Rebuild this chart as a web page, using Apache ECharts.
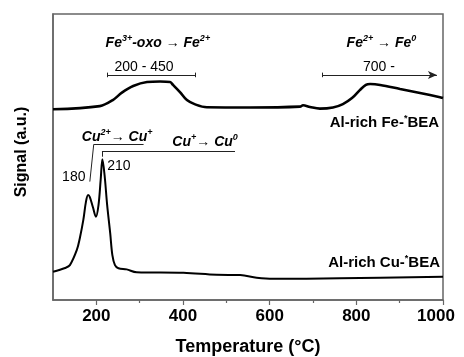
<!DOCTYPE html>
<html><head><meta charset="utf-8">
<script src="https://cdn.jsdelivr.net/npm/echarts@6/dist/echarts.min.js"></script>
<style>html,body{margin:0;padding:0;background:#fff}#c{width:464px;height:357px}</style>
</head><body><div id="c"></div>
<script>
// Temperatures (°C) and signal (arbitrary units, stacked offsets)
const feTemps = [100,208,238,259,285,317,347,370,377,393,409,428,455,555,670,677,693,716,746,769,790,808,822,832,855,901,947,993,1000];
const feSignal = [66.7,67.8,69.9,72.5,74.8,76.2,76.4,76.2,75.2,72.7,69.9,68.4,67.4,67.3,67.6,68.1,67.5,66.9,67.3,68.5,70.6,73.4,75.2,75.5,75.2,73.8,72.4,70.9,70.6];
const cuTemps = [100,128,139,155,162,170,176,181,185,192,199,205,210,214,219,225,232,237,243,251,270,293,401,478,532,570,608,762,1000];
const cuSignal = [9.9,11.2,12.2,17.5,21.7,28.0,34.3,36.7,36.0,32.5,29.1,33.2,42.0,49.2,43.7,33.2,23.4,15.7,12.2,11.1,10.7,9.7,9.5,8.8,8.7,7.8,7.4,7.6,8.1];
const majorTicks = [200,400,600,800,1000];
const minorTicks = [300,500,700,900];

const chart = echarts.init(document.getElementById('c'), null, {renderer:'canvas'});
const F = 'Liberation Sans, Arial, sans-serif';
const lc = '#222';
const seg = (a,b,extra)=>[Object.assign({coord:a, symbol:'none'}, extra&&extra[0]||{}), Object.assign({coord:b, symbol:'none'}, extra&&extra[1]||{})];
const gridBox = {left:53, right:21, top:14, bottom:57, containLabel:false, outerBoundsMode:'none'};

chart.setOption({
  animation:false,
  grid:[Object.assign({show:true, borderColor:'#666', borderWidth:1.5}, gridBox), Object.assign({show:false}, gridBox)],
  xAxis:[{
    type:'value', min:100, max:1000, position:'bottom', gridIndex:0,
    axisLine:{show:true, lineStyle:{color:'#666', width:1.5}},
    axisTick:{show:true, customValues:majorTicks, length:5, lineStyle:{color:'#666', width:1.2}},
    axisLabel:{customValues:majorTicks, margin:8, color:'#000', fontFamily:F, fontWeight:'bold', fontSize:17,
      formatter:v=> v===1000 ? '{l|1000}' : String(v),
      rich:{l:{fontFamily:F, fontWeight:'bold', fontSize:17, color:'#000', padding:[0,14,0,0]}}},
    splitLine:{show:false},
    name:'Temperature (°C)', nameLocation:'middle', nameGap:38,
    nameTextStyle:{color:'#000', fontFamily:F, fontWeight:'bold', fontSize:18}
  },{
    type:'value', min:100, max:1000, position:'bottom', gridIndex:1,
    axisLine:{show:false},
    axisTick:{show:true, customValues:minorTicks, length:3, lineStyle:{color:'#666', width:1.2}},
    axisLabel:{show:true, customValues:minorTicks, formatter:()=>''}, splitLine:{show:false}
  }],
  yAxis:[{
    type:'value', min:0, max:100, gridIndex:0,
    axisLine:{show:true, lineStyle:{color:'#666', width:1.5}},
    axisTick:{show:false}, axisLabel:{show:false}, splitLine:{show:false},
    name:'Signal (a.u.)', nameLocation:'middle', nameGap:23,
    nameTextStyle:{color:'#000', fontFamily:F, fontWeight:'bold', fontSize:16, padding:[0,0,0,10]}
  },{
    type:'value', min:0, max:100, gridIndex:1, show:false
  }],
  series:[
    {type:'line', name:'Fe', data:feTemps.map((t,i)=>[t,feSignal[i]]), showSymbol:false, smooth:0.35,
     lineStyle:{color:'#000', width:2.6}, silent:true,
     markLine:{silent:true, symbolSize:7, label:{show:false}, lineStyle:{color:lc, width:1, type:'solid'},
       data:[
         seg([225,78.7],[428,78.7]),
         seg([225,77.9],[225,79.5]),
         seg([428,77.9],[428,79.5]),
         seg([721,78.7],[986,78.7],[{},{symbol:'arrow', symbolSize:[6,9]}]),
         seg([721,77.9],[721,79.5])
       ]}},
    {type:'line', name:'Cu', data:cuTemps.map((t,i)=>[t,cuSignal[i]]), showSymbol:false, smooth:0.35,
     lineStyle:{color:'#000', width:2}, silent:true,
     markLine:{silent:true, label:{show:false}, lineStyle:{color:lc, width:1, type:'solid'},
       data:[
         seg([185,41.4],[194,54.4]),
         seg([194,54.4],[309,54.4]),
         seg([213,50.1],[213,51.9]),
         seg([213,51.9],[520,51.9])
       ]}}
  ]
});

// annotation texts anchored at data coordinates
const bi = {fontFamily:F, fontWeight:'bold', fontStyle:'italic', fontSize:14, color:'#000', lineHeight:18};
const sup = {fontFamily:F, fontWeight:'bold', fontStyle:'italic', fontSize:9, color:'#000', verticalAlign:'top', lineHeight:10};
const ar = {fontFamily:F, fontWeight:'normal', fontSize:14, color:'#000', lineHeight:18};
const bd = {fontFamily:F, fontWeight:'bold', fontSize:15, color:'#000', lineHeight:18};
const bsup = {fontFamily:F, fontWeight:'bold', fontSize:9, color:'#000', verticalAlign:'top', lineHeight:10};
const rich = {b:bi, s:sup, a:ar, d:bd, p:bsup};
const annotations = [
  {at:[342,89.9], text:'{b|Fe}{s|3+}{b|-oxo }{a|→ }{b|Fe}{s|2+}', align:'center'},
  {at:[858,89.9], text:'{b|Fe}{s|2+}{a| → }{b|Fe}{s|0}', align:'center'},
  {at:[310,81.5], text:'200 - 450', align:'center', plain:true},
  {at:[852,81.5], text:'700 -', align:'center', plain:true},
  {at:[991,61.9], text:'{d|Al-rich Fe-}{p|*}{d|BEA}', align:'right'},
  {at:[993,12.9], text:'{d|Al-rich Cu-}{p|*}{d|BEA}', align:'right'},
  {at:[248,57.1], text:'{b|Cu}{s|2+}{a|→ }{b|Cu}{s|+}', align:'center'},
  {at:[451,55.3], text:'{b|Cu}{s|+}{a|→ }{b|Cu}{s|0}', align:'center'},
  {at:[148,42.8], text:'180', align:'center', plain:true},
  {at:[252,46.9], text:'210', align:'center', plain:true}
];
const g = annotations.map(a=>{
  const p = chart.convertToPixel({xAxisIndex:0, yAxisIndex:0}, a.at);
  const style = a.plain
    ? {text:a.text, x:p[0], y:p[1], align:a.align, verticalAlign:'middle', fontFamily:F, fontSize:14, fill:'#000'}
    : {text:a.text, x:p[0], y:p[1], align:a.align, verticalAlign:'middle', rich:rich, fill:'#000'};
  return {type:'text', style:style, silent:true, z:10};
});
chart.setOption({graphic:g});
</script></body></html>
